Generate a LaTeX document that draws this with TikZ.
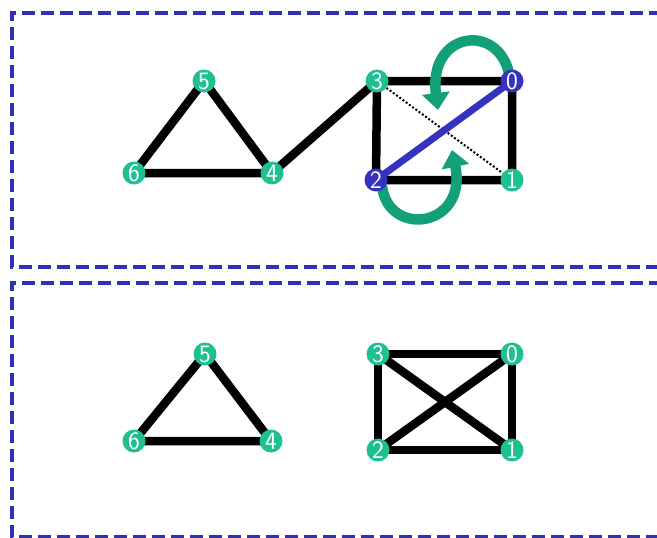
\documentclass[tikz,border=0pt]{standalone}
\usepackage{tikz}
\usetikzlibrary{arrows.meta,backgrounds}

\definecolor{boxblue}{RGB}{50,48,186}
\definecolor{vgreen}{RGB}{30,192,145}
\definecolor{agreen}{RGB}{18,160,120}
\definecolor{vblue}{RGB}{52,50,190}

\begin{document}
\begin{tikzpicture}[x=1pt, y=-1pt,
  vert/.style={circle, fill=vgreen, minimum size=23pt, inner sep=0pt,
               text=white, font=\sffamily\fontsize{25}{25}\selectfont},
  vsel/.style={vert, fill=vblue},
  edge/.style={line width=8.5pt},
  frame/.style={draw=boxblue, line width=4pt, dash pattern=on 13pt off 6pt},
  swap/.style={agreen, line width=10.5pt, -{Triangle[width=27pt,length=17pt]}}]
  \useasboundingbox (0,0) rectangle (657,538);
  \clip (0,0) rectangle (657,538);
  % frames
  \draw[frame] (700,12.5) -- (11.5,12.5) -- (11.5,266.5) -- (700,266.5);
  \draw[frame] (700,282.5) -- (11.5,282.5) -- (11.5,536.5) -- (700,536.5);

  % upper graph
  \node[vert] (a5) at (204,81) {5};
  \node[vert] (a6) at (134,173) {6};
  \node[vert] (a4) at (272,173) {4};
  \node[vert] (a3) at (377,81) {3};
  \node[vsel] (a0) at (512,81) {0};
  \node[vsel] (a2) at (376,180) {2};
  \node[vert] (a1) at (512,180) {1};
  \begin{pgfonlayer}{background}
    \draw[edge] (a5.center) -- (a6.center) -- (a4.center) -- cycle;
    \draw[edge] (a4.center) -- (a3.center);
    \draw[edge] (a3.center) -- (a0.center) -- (a1.center) -- (a2.center) -- cycle;
    \draw[line width=2pt, dash pattern=on 2pt off 2pt] (a3) -- (a1);
    \draw[vblue, line width=7pt] (a2.center) -- (a0.center);
    \draw[swap] (a0) ++(-3,-8) .. controls (497,22) and (428,32) .. (438,110);
    \draw[swap] (a2) ++(6,6) .. controls (388,238) and (468,228) .. (452,150);
  \end{pgfonlayer}

  % lower graph
  \node[vert] (b5) at (205,354) {5};
  \node[vert] (b6) at (134,441) {6};
  \node[vert] (b4) at (271,441) {4};
  \node[vert] (b3) at (378,354) {3};
  \node[vert] (b0) at (512,354) {0};
  \node[vert] (b2) at (378,450) {2};
  \node[vert] (b1) at (512,450) {1};
  \begin{pgfonlayer}{background}
    \draw[edge] (b5.center) -- (b6.center) -- (b4.center) -- cycle;
    \draw[edge] (b3.center) -- (b0.center) -- (b1.center) -- (b2.center) -- cycle;
    \draw[edge] (b3.center) -- (b1.center);
    \draw[edge] (b2.center) -- (b0.center);
  \end{pgfonlayer}
\end{tikzpicture}
\end{document}
